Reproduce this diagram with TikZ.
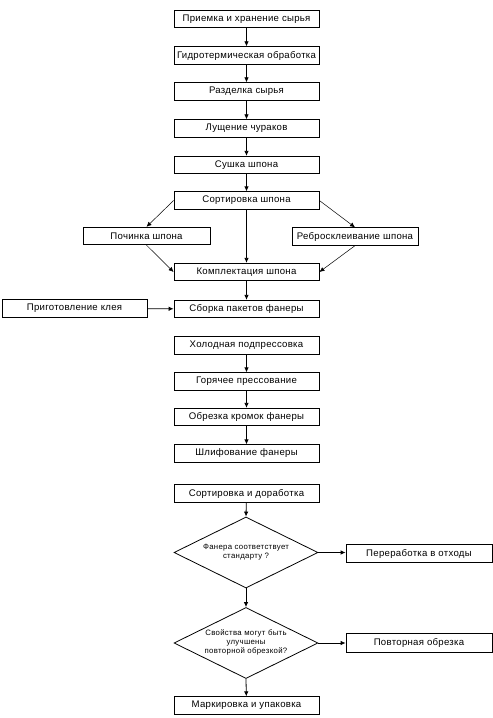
\documentclass[tikz,border=0pt]{standalone}
\usepackage{fontspec}
\setmainfont{Liberation Sans}
\newfontfamily\boxfont[LetterSpace=3]{Liberation Sans}
\newfontfamily\dmdfont[LetterSpace=4]{Liberation Sans}
\usetikzlibrary{arrows.meta,shapes.geometric}
\begin{document}
\begin{tikzpicture}[x=1bp,y=-1bp,
  boxnode/.style={draw, line width=0.8bp, minimum width=145bp, minimum height=17.5bp, inner sep=0pt,
    font=\boxfont\fontsize{9.6bp}{11bp}\selectfont},
  dmd/.style={draw, diamond, line width=0.8bp, minimum width=144bp, minimum height=71bp, inner sep=0pt},
  dtext/.style={align=center, inner sep=0pt, font=\dmdfont\fontsize{7.8bp}{9bp}\selectfont},
  arr/.style={line width=0.8bp, -{Latex[length=5bp,width=4.5bp]}},
  darr/.style={line width=0.5bp, -{Latex[length=5bp,width=4.5bp]}}]
\fill[white] (0,0) rectangle (493,718);
\useasboundingbox (0,0) rectangle (493,718);

\node[boxnode] (b1) at (246.5,19) {Приемка и хранение сырья};
\node[boxnode] (b2) at (246.5,55.5) {Гидротермическая обработка};
\node[boxnode] (b3) at (246.5,91.5) {Разделка сырья};
\node[boxnode] (b4) at (246.5,128.5) {Лущение чураков};
\node[boxnode] (b5) at (246.5,165) {Сушка шпона};
\node[boxnode] (b6) at (246.5,200.5) {Сортировка шпона};
\node[boxnode, minimum width=127bp] (poch) at (146.5,236) {Починка шпона};
\node[boxnode, minimum width=126bp] (rebro) at (355,236.5) {Ребросклеивание шпона};
\node[boxnode] (b7) at (246.5,272) {Комплектация шпона};
\node[boxnode] (b8) at (246.5,309) {Сборка пакетов фанеры};
\node[boxnode] (klei) at (74.5,308.5) {Приготовление клея};
\node[boxnode] (b9) at (246.5,345.5) {Холодная подпрессовка};
\node[boxnode] (b10) at (246.5,381.5) {Горячее прессование};
\node[boxnode] (b11) at (246.5,417) {Обрезка кромок фанеры};
\node[boxnode] (b12) at (246.5,453.5) {Шлифование фанеры};
\node[boxnode] (b13) at (246.5,493.5) {Сортировка и доработка};
\node[dmd] (d1) at (246,552.5) {};
\node[dtext] (d1t) at (246,552) {Фанера соответствует\\стандарту ?};
\node[boxnode, minimum width=146bp] (perer) at (419,553.5) {Переработка в отходы};
\node[dmd] (d2) at (246,643) {};
\node[dtext] (d2t) at (246,642) {Свойства могут быть\\улучшены\\повторной обрезкой?};
\node[boxnode, minimum width=146bp, minimum height=19bp] (povt) at (419,643) {Повторная обрезка};
\node[boxnode] (b14) at (246.5,705.5) {Маркировка и упаковка};

\draw[arr] (b1) -- (b2);
\draw[arr] (b2) -- (b3);
\draw[arr] (b3) -- (b4);
\draw[arr] (b4) -- (b5);
\draw[arr] (b5) -- (b6);
\draw[arr] (b6) -- (b7);
\draw[darr] (b6.west) -- (poch.north);
\draw[darr] (poch.south) -- (b7.west);
\draw[darr] (b6.east) -- (rebro.north);
\draw[darr] (rebro.south) -- (b7.east);
\draw[arr] (b7) -- (b8);
\draw[arr] (klei) -- (b8);
\draw[arr] (b9) -- (b10);
\draw[arr] (b10) -- (b11);
\draw[arr] (b11) -- (b12);
\draw[arr] (b13) -- (d1.north);
\draw[arr] (d1.east) -- (d1.east -| perer.west);
\draw[arr] (d1.south) -- (d2.north);
\draw[arr] (d2.east) -- (povt.west);
\draw[arr] (d2.south) -- (b14);
\end{tikzpicture}
\end{document}
